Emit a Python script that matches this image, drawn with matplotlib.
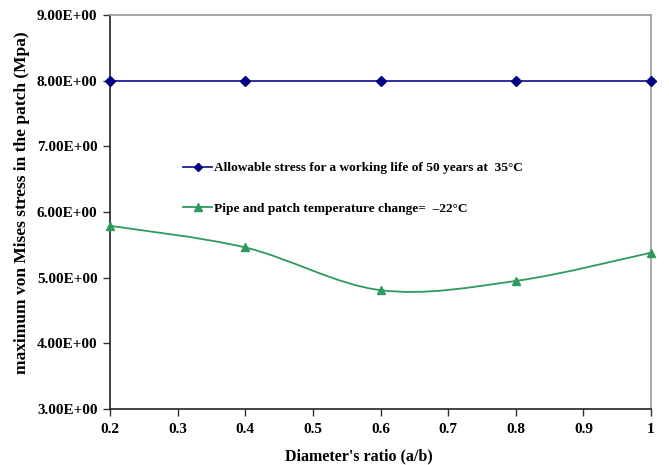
import numpy as np
import matplotlib
matplotlib.use("Agg")
import matplotlib.pyplot as plt
from matplotlib.path import Path
from matplotlib.patches import PathPatch
from matplotlib.lines import Line2D
from matplotlib.ticker import FuncFormatter, MultipleLocator

# data
ratio = [0.2, 0.4, 0.6, 0.8, 1.0]
allowable = [8.0, 8.0, 8.0, 8.0, 8.0]
temp_change = [5.79, 5.46, 4.81, 4.95, 5.38]

label_allow = "Allowable stress for a working life of 50 years at  35°C"
label_temp = "Pipe and patch temperature change=  \u201322°C"

blue = "#000080"
blue_line = "#1f1f9a"
green = "#2e9a5e"

plt.rcParams["font.family"] = ["Liberation Serif", "DejaVu Serif"]
plt.rcParams["font.weight"] = "bold"

fig = plt.figure(figsize=(6.69, 4.65), dpi=100)
ax = fig.add_axes([110 / 669, 1 - 409 / 465, 541 / 669, 394 / 465])

ax.plot(ratio, allowable, color=blue_line, lw=1.3, marker="D", ms=5,
        mfc=blue, mec=blue, clip_on=False, zorder=3)


# excel-style smoothed line (catmull-rom bezier) through the points
def smooth_path(xs, ys):
    pts = np.column_stack([xs, ys])
    verts = [pts[0]]
    codes = [Path.MOVETO]
    n = len(pts)
    for i in range(n - 1):
        p0 = pts[max(i - 1, 0)]
        p1 = pts[i]
        p2 = pts[i + 1]
        p3 = pts[min(i + 2, n - 1)]
        c1 = p1 + (p2 - p0) / 6.0
        c2 = p2 - (p3 - p1) / 6.0
        verts += [c1, c2, p2]
        codes += [Path.CURVE4] * 3
    return Path(verts, codes)


ax.add_patch(PathPatch(smooth_path(ratio, temp_change), fill=False,
                       edgecolor=green, lw=1.3, zorder=3))
ax.plot(ratio, temp_change, ls="none", marker="^", ms=6,
        mfc=green, mec=green, clip_on=False, zorder=4)

ax.set_xlim(0.2, 1.0)
ax.set_ylim(3.0, 9.0)
ax.xaxis.set_major_locator(MultipleLocator(0.1))
ax.yaxis.set_major_locator(MultipleLocator(1.0))
ax.xaxis.set_major_formatter(FuncFormatter(lambda v, p: "1" if abs(v - 1) < 1e-9 else f"{v:.1f}"))
ax.yaxis.set_major_formatter(FuncFormatter(lambda v, p: f"{v:.2E}"))
ax.tick_params(axis="both", direction="out", length=5, width=1, labelsize=11, color="#333333")
ax.tick_params(axis="x", pad=5)
ax.tick_params(axis="y", pad=4)
for lbl in ax.get_xticklabels() + ax.get_yticklabels():
    lbl.set_fontweight("bold")

for s in ["left", "bottom"]:
    ax.spines[s].set_color("#222222")
for s in ["top", "right"]:
    ax.spines[s].set_color("#999999")
for s in ax.spines.values():
    s.set_linewidth(1.2)

ax.set_xlabel("Diameter's ratio (a/b)", fontsize=11.5, fontweight="bold")
ax.set_ylabel("maximum von Mises stress in the patch (Mpa)", fontsize=12.5,
              fontweight="bold")
ax.xaxis.set_label_coords(0.46, -0.1)
ax.yaxis.set_label_coords(-0.148, 0.523)

handles = [
    Line2D([], [], color=blue_line, lw=1.3, marker="D", ms=4.5, mfc=blue, mec=blue),
    Line2D([], [], color=green, lw=1.3, marker="^", ms=6, mfc=green, mec=green),
]
ax.legend(handles, [label_allow, label_temp], loc="center left",
          bbox_to_anchor=(0.135, 0.56), frameon=False,
          handlelength=2.2, handletextpad=0.15, labelspacing=2.1,
          borderpad=0, borderaxespad=0, prop={"weight": "bold", "size": 9.6})

fig.savefig("out.png", dpi=100)
